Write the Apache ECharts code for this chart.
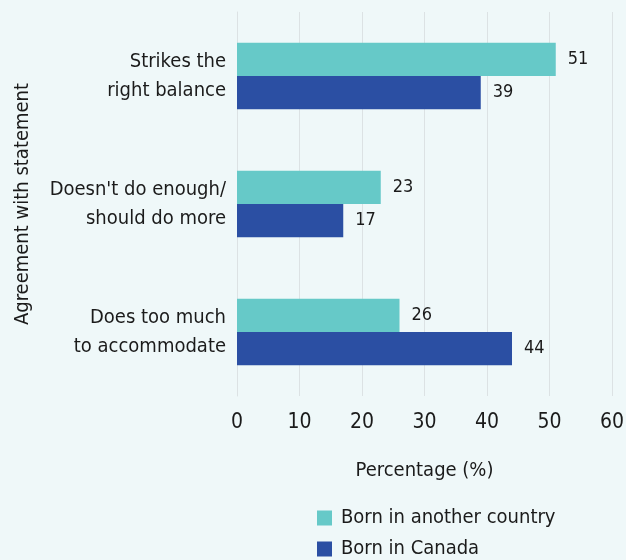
<!DOCTYPE html>
<html>
<head>
<meta charset="utf-8">
<script src="https://cdn.jsdelivr.net/npm/echarts@6/dist/echarts.min.js"></script>
<style>
  html, body { margin: 0; padding: 0; background: #EFF8F9; }
  #chart { width: 626px; height: 560px; }
</style>
</head>
<body>
<div id="chart"></div>
<script>
// Agreement categories, listed top to bottom
const categories = [
  'Strikes the\nright balance',
  "Doesn't do enough/\nshould do more",
  'Does too much\nto accommodate'
];
const bornAbroad = [51, 23, 26];
const bornCanada = [39, 17, 44];
const xTicks = [0, 10, 20, 30, 40, 50, 60];
const seriesNames = ['Born in another country', 'Born in Canada'];

const FONT = '"DejaVu Sans", sans-serif';
// Narrow face via the font-stretch slot of the canvas font shorthand
const NARROW = 'condensed';
const TEXT = '#1b1b1b';

const txt = (size) => ({ fontFamily: FONT, fontWeight: NARROW, fontSize: size, color: TEXT });

const chart = echarts.init(document.getElementById('chart'), null, { renderer: 'canvas' });
chart.setOption({
  backgroundColor: '#EFF8F9',
  textStyle: { fontFamily: FONT, color: TEXT },
  grid: { left: 237, right: 14, top: 12, height: 384, containLabel: false, outerBoundsMode: 'none' },
  xAxis: {
    type: 'value',
    min: xTicks[0],
    max: xTicks[xTicks.length - 1],
    interval: 10,
    name: 'Percentage (%)',
    nameLocation: 'middle',
    nameGap: 65,
    nameTextStyle: txt(20),
    axisLine: { show: false },
    axisTick: { show: false },
    axisLabel: Object.assign(txt(21), { margin: 16 }),
    splitLine: { show: true, lineStyle: { color: '#DCE2E4', width: 1 } }
  },
  yAxis: {
    type: 'category',
    inverse: true,
    data: categories,
    name: 'Agreement with statement',
    nameLocation: 'middle',
    nameGap: 204,
    nameRotate: 90,
    nameTextStyle: txt(20),
    axisLine: { show: true, lineStyle: { color: '#DCE2E4' } },
    axisTick: { show: false },
    axisLabel: Object.assign(txt(20), { lineHeight: 29, margin: 11, align: 'right' })
  },
  legend: [
    {
      left: 312, top: 503, itemWidth: 15, itemHeight: 15,
      icon: 'rect',
      textStyle: Object.assign(txt(20), { padding: [0, 0, 0, 4] }),
      data: [seriesNames[0]]
    },
    {
      left: 312, top: 534, itemWidth: 15, itemHeight: 15,
      icon: 'rect',
      textStyle: Object.assign(txt(20), { padding: [0, 0, 0, 4] }),
      data: [seriesNames[1]]
    }
  ],
  series: [
    {
      name: seriesNames[0],
      type: 'bar',
      data: bornAbroad,
      barGap: '0%',
      barCategoryGap: '48%',
      itemStyle: { color: '#66C9C8' },
      label: Object.assign({ show: true, position: 'right', distance: 12 }, txt(18))
    },
    {
      name: seriesNames[1],
      type: 'bar',
      data: bornCanada,
      barGap: '0%',
      barCategoryGap: '48%',
      itemStyle: { color: '#2B4FA3' },
      label: Object.assign({ show: true, position: 'right', distance: 12 }, txt(18))
    }
  ]
});
</script>
</body>
</html>
